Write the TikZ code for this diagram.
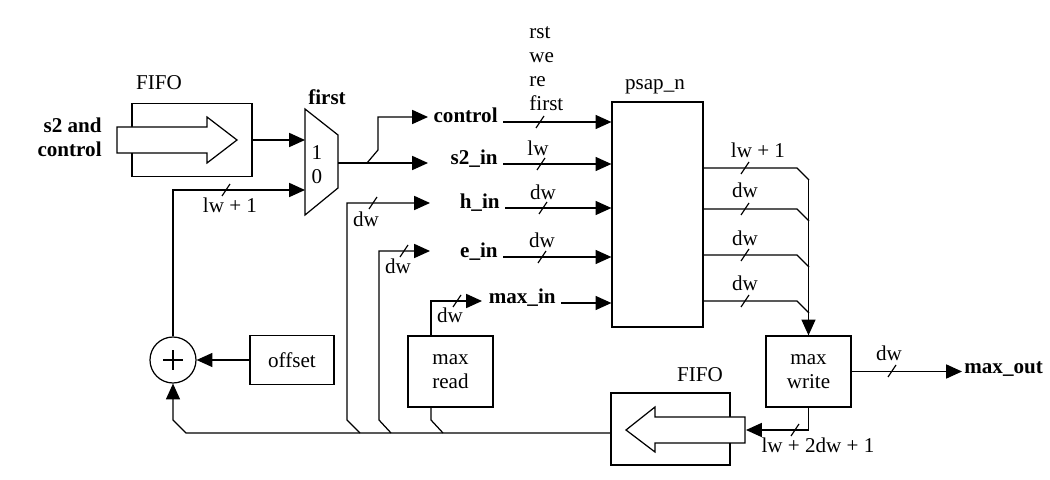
\documentclass[tikz,border=0pt]{standalone}
\usepackage{fontspec}
\setmainfont{Liberation Serif}
\usetikzlibrary{arrows.meta}
\usetikzlibrary{positioning}

\tikzset{
  blk/.style={draw, rectangle, inner sep=0pt, align=center},
  sig/.style={-{Triangle[length=9pt,width=8pt]}},
  lbl/.style={inner sep=1pt, align=left},
  wtick/.pic={\draw (-4,6) -- (4,-6);}
}

\begin{document}
\begin{tikzpicture}[x=0.2mm, y=-0.2mm, line width=0.7pt, font=\fontsize{12}{13.6}\selectfont]
    \useasboundingbox (0,0) rectangle (1050,480);

    % Input FIFO
    \node[blk, minimum width=2.4cm, minimum height=1.46cm] (fifoA) at (192,140) {};
    \node[lbl] (fifoAname) at (159,83) {FIFO};
    \draw[fill=white] (117,127) -- (207,127) -- (207,117) -- (237,140) -- (207,163) -- (207,153) -- (117,153) -- cycle;
    \node[lbl, align=right, anchor=east] (src) at (104,137) {\textbf{s2 and}\\\textbf{control}};

    % Mux
    \draw (305,109) -- (338,135) -- (338,188) -- (305,215) -- cycle;
    \coordinate (muxi1) at (305,140);
    \coordinate (muxi0) at (305,190);
    \coordinate (muxo) at (338,163);
    \node[lbl] (sel) at (327,97) {\textbf{first}};
    \node[lbl] (selone) at (317,153) {1};
    \node[lbl] (selzero) at (317,177) {0};
    \draw[sig] (fifoA.east) -- (muxi1);

    % Adder and offset
    \node[draw, circle, minimum size=0.92cm, inner sep=0pt] (add) at (173,360) {};
    \draw ([xshift=-2mm]add.center) -- ([xshift=2mm]add.center)
          ([yshift=-2mm]add.center) -- ([yshift=2mm]add.center);
    \node[blk, minimum width=1.68cm, minimum height=0.98cm] (off) at (292,360) {offset};
    \draw[sig] (off.west) -- (add.east);
    \draw[sig] (add.north) |- (muxi0);
    \pic at (226,190) {wtick};
    \node[lbl] (wfb) at (230,205) {lw + 1};

    % psap_n
    \node[blk, minimum width=1.82cm, minimum height=4.5cm] (psap) at (657.5,214.5) {};
    \node[lbl] (psapname) at (655,87) {psap\_n};
    \node[lbl, anchor=west] (ctlsig) at (527,69) {rst\\we\\re\\first};

    % Inputs of psap_n
    \node[lbl, anchor=base east] (ctl) at (500,123) {\textbf{control}};
    \node[lbl, anchor=base east] (s2) at (500,165) {\textbf{s2\_in}};
    \node[lbl, anchor=base east] (hin) at (502,209) {\textbf{h\_in}};
    \node[lbl, anchor=base east] (ein) at (500,258) {\textbf{e\_in}};
    \node[lbl, anchor=base east] (mxin) at (558,304) {\textbf{max\_in}};
    \foreach \p in {ctl, s2, hin, ein, mxin} {
        \draw[sig] ([xshift=0.6mm,yshift=0.2mm]\p.base east) -- ([yshift=0.2mm]\p.base east -| psap.west);
    }
    \pic at (540,122) {wtick};
    \pic at (541,164) {wtick};
    \pic at (543,208) {wtick};
    \pic at (542,257) {wtick};
    \node[lbl] (ws2) at (538,148) {lw};
    \node[lbl] (wh) at (543,192) {dw};
    \node[lbl] (we) at (542,240) {dw};

    % Mux output
    \coordinate (cA) at (428,117);
    \coordinate (sA) at (428,163);
    \draw[sig] (muxo) -- (sA);
    \draw[sig] (367,163) -- (378,150) |- (cA);

    % Feedback bus
    \coordinate (busR) at (611,433);
    \coordinate (hA) at (430,203);
    \coordinate (eA) at (430,251);
    \coordinate (mA) at (482,301);
    \node[blk, minimum width=1.7cm, minimum height=1.42cm] (mrd) at (450.5,371.5) {max\\read};
    \draw[sig] (busR) -- (186,433) -- (173,420) -- (add.south);
    \draw[sig] (360,433) -- (347,420) |- (hA);
    \draw[sig] (391,433) -- (379,420) |- (eA);
    \draw (443,433) -- (431,420) -- ([xshift=-3.9mm]mrd.south);
    \draw[sig] ([xshift=-3.9mm]mrd.north) |- (mA);
    \pic at (373,203) {wtick};
    \pic at (404,251) {wtick};
    \pic at (457,301) {wtick};
    \node[lbl] (wbh) at (366,219) {dw};
    \node[lbl] (wbe) at (398,266) {dw};
    \node[lbl] (wbm) at (450,315) {dw};

    % Outputs of psap_n
    \node[blk, minimum width=1.7cm, minimum height=1.42cm] (mwr) at (808.5,371.5) {max\\write};
    \foreach \y in {168,209,255,301} {
        \draw (psap.east |- 0,\y) -- (797,\y) -- (809,\y+12);
        \pic at (745,\y) {wtick};
    }
    \draw[sig] (mwr.north |- 0,180) -- (mwr.north);
    \node[lbl] (wo1) at (758,150) {lw + 1};
    \node[lbl] (wo2) at (745,190) {dw};
    \node[lbl] (wo3) at (745,238) {dw};
    \node[lbl] (wo4) at (745,283) {dw};

    % max_out
    \node[lbl, anchor=base west] (mout) at (962,374) {\textbf{max\_out}};
    \draw[sig] (mwr.east) -- (mwr.east -| mout.west);
    \pic at (892,371) {wtick};
    \node[lbl] (wmo) at (889,353) {dw};

    % Output FIFO
    \node[blk, minimum width=2.38cm, minimum height=1.44cm] (fifoB) at (670.5,429) {};
    \node[lbl] (fifoBname) at (700,375) {FIFO};
    \draw[fill=white] (745,417) -- (655,417) -- (655,407) -- (626,430) -- (655,452) -- (655,443) -- (745,443) -- cycle;
    \coordinate (fbIn) at (746,430);
    \draw[sig] (mwr.south) |- (fbIn);
    \pic at (795,430) {wtick};
    \node[lbl] (wfifo) at (818,445) {lw + 2dw + 1};
\end{tikzpicture}
\end{document}
